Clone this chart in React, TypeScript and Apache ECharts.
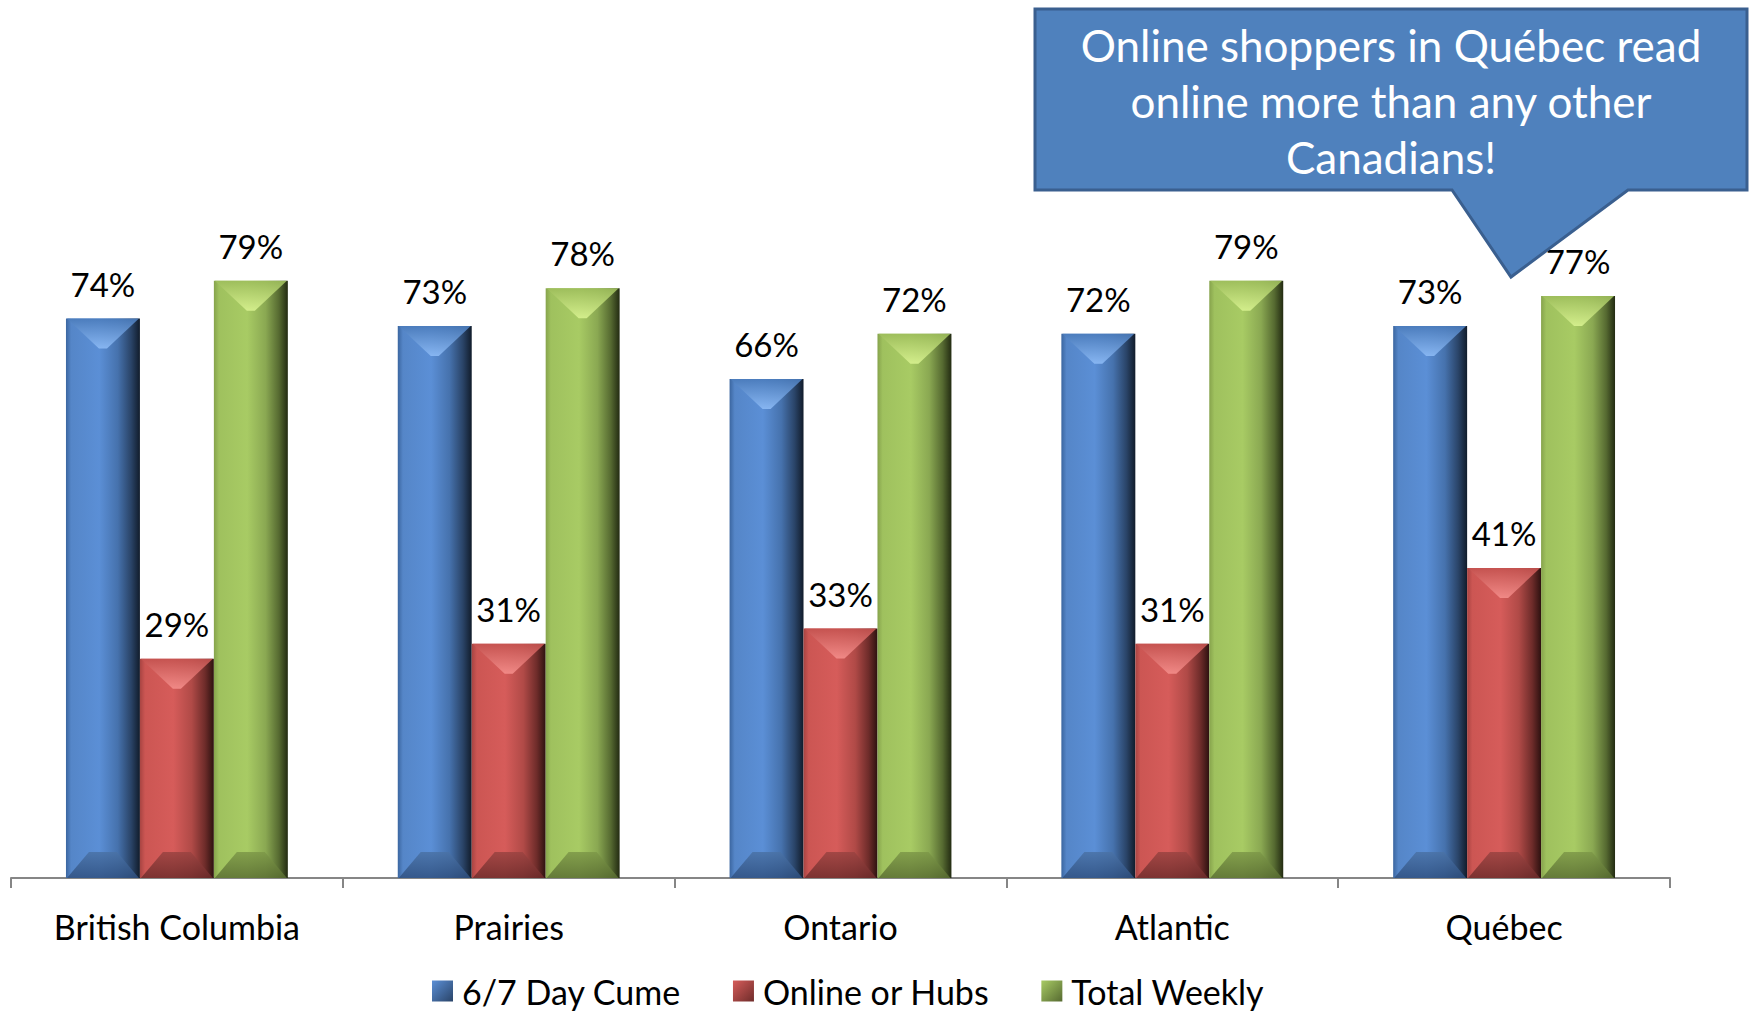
import React, { useEffect, useRef } from "react";
import * as echarts from "echarts";

const categories = ["British Columbia", "Prairies", "Ontario", "Atlantic", "Québec"];
const seriesNames = ["6/7 Day Cume", "Online or Hubs", "Total Weekly"];
const cumeValues = [74, 73, 66, 72, 73];
const onlineValues = [29, 31, 33, 31, 41];
const weeklyValues = [79, 78, 72, 79, 77];
const calloutLines = ["Online shoppers in Québec read", "online more than any other", "Canadians!"];

const FONT = "Lato, 'Noto Sans', sans-serif";

const palettes = [
  {
    base: "#4f81bd",
    body: ["#3b66a0", "#5586c8", "#5b8fd6", "#4672ad", "#2a4468", "#111c2b"],
    topA: "#4a7bbb", topB: "#8cbaf5",
    botA: "#4a72a6", botB: "#2f5080",
  },
  {
    base: "#c0504d",
    body: ["#a84442", "#cc5653", "#d65c5a", "#b04a47", "#6e2c2a", "#2d1110"],
    topA: "#c4524f", topB: "#f48e8b",
    botA: "#9a4341", botB: "#6e2c2b",
  },
  {
    base: "#9bbb59",
    body: ["#86a34c", "#9fc15e", "#a8cb64", "#8aa852", "#566a31", "#232b12"],
    topA: "#9dbd5b", topB: "#d8f290",
    botA: "#7d9848", botB: "#5a6e32",
  },
];

const BAR_RATIO = 74 / 332;

function makeRender(idx: number) {
  const pal = palettes[idx];
  return (params: any, api: any) => {
    const cat = api.value(0);
    const val = api.value(1);
    const base = api.coord([cat, 0]);
    const top = api.coord([cat, val]);
    const band = api.size([1, 0])[0];
    const bw = band * BAR_RATIO;
    const cx = base[0] + (idx - 1) * bw;
    const x = cx - bw / 2;
    const y = top[1];
    const h = base[1] - top[1];
    const d = Math.min(30, h / 2);
    const s = pal.body;
    const bodyGrad = new echarts.graphic.LinearGradient(0, 0, 1, 0, [
      { offset: 0, color: s[0] },
      { offset: 0.07, color: s[1] },
      { offset: 0.45, color: s[2] },
      { offset: 0.7, color: s[3] },
      { offset: 0.88, color: s[4] },
      { offset: 1, color: s[5] },
    ]);
    return {
      type: "group",
      children: [
        { type: "rect", shape: { x, y, width: bw, height: h }, style: { fill: bodyGrad } },
        {
          type: "polygon",
          shape: { points: [[x + 1, y], [x + bw - 1, y], [cx + 4, y + d], [cx - 4, y + d]] },
          style: {
            fill: new echarts.graphic.LinearGradient(0, 0, 0, 1, [
              { offset: 0, color: pal.topA },
              { offset: 1, color: pal.topB },
            ]),
            opacity: 0.9,
          },
        },
        {
          type: "polygon",
          shape: { points: [[x + 1, base[1]], [x + bw - 1, base[1]], [cx + 14, base[1] - d + 4], [cx - 14, base[1] - d + 4]] },
          style: {
            fill: new echarts.graphic.LinearGradient(0, 0, 0, 1, [
              { offset: 0, color: pal.botA },
              { offset: 1, color: pal.botB },
            ]),
            opacity: 0.85,
          },
        },
        {
          type: "text",
          style: {
            text: val + "%",
            x: cx,
            y: y - 35,
            align: "center",
            verticalAlign: "middle",
            fill: "#000",
            fontSize: 33,
            fontFamily: FONT,
          },
        },
      ],
    };
  };
}

export default function App() {
  const ref = useRef<HTMLDivElement>(null);
  useEffect(() => {
    if (!ref.current) return;
    const chart = echarts.init(ref.current, undefined, { renderer: "svg" });
    const allValues = [cumeValues, onlineValues, weeklyValues];
    const series = allValues.map((vals, i) => ({
      type: "custom",
      name: seriesNames[i],
      renderItem: makeRender(i),
      encode: { x: 0, y: 1 },
      itemStyle: { color: palettes[i].base },
      data: vals.map((v, j) => [j, v]),
    }));
    const calloutPoints = [
      [1035, 9], [1747, 9], [1747, 190], [1628, 190], [1511, 277], [1452, 190], [1035, 190],
    ];
    chart.setOption({
      animation: false,
      backgroundColor: "#ffffff",
      grid: { left: 11, right: 84, top: 122, bottom: 135 },
      xAxis: {
        type: "category",
        data: categories,
        axisLine: { lineStyle: { color: "#868686", width: 2 } },
        axisTick: { show: true, length: 10, lineStyle: { color: "#868686", width: 2 } },
        axisLabel: { color: "#000", fontSize: 34, fontFamily: FONT, margin: 31 },
      },
      yAxis: { type: "value", min: 0, max: 100, show: false },
      legend: {
        left: 432,
        top: 973,
        padding: 0,
        itemWidth: 21,
        itemHeight: 21,
        itemGap: 52,
        icon: "rect",
        textStyle: { color: "#000", fontSize: 34, lineHeight: 36, fontFamily: FONT, padding: [0, 0, 0, 4] },
        data: seriesNames.map((n, i) => ({
          name: n,
          itemStyle: {
            color: new echarts.graphic.LinearGradient(0, 0, 1, 1, [
              { offset: 0, color: palettes[i].body[2] },
              { offset: 1, color: palettes[i].body[4] },
            ]),
          },
        })),
      },
      series,
      graphic: [
        {
          type: "polygon",
          z: 100,
          shape: { points: calloutPoints },
          style: { fill: "#4f81bd", stroke: "#3a5f8f", lineWidth: 3 },
        },
        {
          type: "text",
          z: 101,
          x: 1391,
          y: 101,
          style: {
            text: calloutLines.join("\n"),
            align: "center",
            verticalAlign: "middle",
            fill: "#ffffff",
            fontSize: 44,
            lineHeight: 56,
            fontFamily: FONT,
          },
        },
      ],
    });
    return () => chart.dispose();
  }, []);
  return (
    <div
      ref={ref}
      style={{ position: "fixed", left: 0, top: 0, width: 1754, height: 1013, background: "#fff" }}
    />
  );
}
